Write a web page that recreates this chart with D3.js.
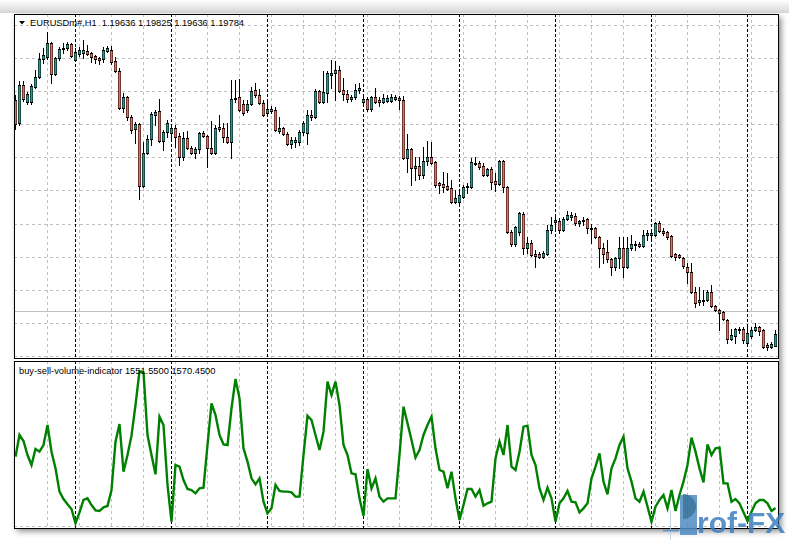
<!DOCTYPE html>
<html><head><meta charset="utf-8">
<script src="https://cdn.jsdelivr.net/npm/d3@7"></script>
<style>html,body{margin:0;padding:0;background:#fff;overflow:hidden}</style>
</head><body><svg id="c" width="789" height="540"></svg>
<script>
const symbol = "EURUSDm#,H1";
const headerValues = ["1.19636", "1.19825", "1.19636", "1.19784"];
const indicatorName = "buy-sell-volume-indicator";
const indicatorValues = ["1551.5500", "1570.4500"];

const openP = [1.22590,1.22314,1.22770,1.22566,1.22566,1.22746,1.22866,1.23082,1.23106,1.23274,1.22902,1.23094,1.23202,1.23214,1.23262,1.23070,1.23142,1.23154,1.23178,1.23154,1.23118,1.23094,1.23082,1.23178,1.23190,1.23058,1.22938,1.22494,1.22626,1.22386,1.22242,1.22302,1.21558,1.21954,1.22122,1.22410,1.22458,1.22098,1.22206,1.22194,1.22254,1.22158,1.21906,1.22134,1.22014,1.21954,1.22002,1.22194,1.22158,1.22014,1.21954,1.22266,1.22254,1.22146,1.22086,1.22602,1.22626,1.22542,1.22470,1.22542,1.22710,1.22650,1.22554,1.22434,1.22482,1.22470,1.22218,1.22254,1.22182,1.22062,1.22086,1.22086,1.22206,1.22194,1.22410,1.22386,1.22698,1.22566,1.22674,1.22890,1.22914,1.22950,1.22710,1.22662,1.22602,1.22626,1.22710,1.22566,1.22602,1.22482,1.22626,1.22590,1.22566,1.22578,1.22578,1.22602,1.22614,1.22590,1.21894,1.22002,1.21774,1.21798,1.21690,1.21858,1.21906,1.21846,1.21594,1.21582,1.21558,1.21534,1.21366,1.21366,1.21426,1.21546,1.21546,1.21834,1.21834,1.21798,1.21690,1.21762,1.21618,1.21582,1.21858,1.21546,1.21006,1.20862,1.21006,1.21222,1.20814,1.20874,1.20742,1.20742,1.20706,1.20742,1.21030,1.21126,1.21138,1.21030,1.21162,1.21186,1.21198,1.21114,1.21138,1.21162,1.21054,1.21054,1.20946,1.20814,1.20766,1.20682,1.20586,1.20694,1.20814,1.20586,1.20814,1.20850,1.20862,1.20838,1.20970,1.20970,1.20970,1.21114,1.21018,1.21006,1.20958,1.20742,1.20730,1.20694,1.20586,1.20526,1.20286,1.20166,1.20190,1.20190,1.20286,1.20118,1.20070,1.20046,1.19950,1.19722,1.19758,1.19842,1.19842,1.19674,1.19758,1.19830,1.19866,1.19830,1.19650,1.19626,1.19636];
const highP = [1.22650,1.22818,1.22818,1.22686,1.22782,1.22950,1.23154,1.23214,1.23406,1.23286,1.23106,1.23226,1.23274,1.23286,1.23274,1.23214,1.23226,1.23310,1.23250,1.23166,1.23130,1.23106,1.23226,1.23238,1.23238,1.23106,1.22974,1.22674,1.22638,1.22410,1.22326,1.22314,1.22086,1.22170,1.22446,1.22470,1.22602,1.22230,1.22350,1.22290,1.22290,1.22194,1.22206,1.22218,1.22038,1.22026,1.22206,1.22218,1.22170,1.22338,1.22290,1.22410,1.22314,1.22314,1.22830,1.22830,1.22842,1.22590,1.22590,1.22746,1.22794,1.22722,1.22590,1.22566,1.22518,1.22506,1.22386,1.22266,1.22206,1.22146,1.22146,1.22230,1.22338,1.22470,1.22470,1.22722,1.22710,1.22938,1.22938,1.23070,1.23058,1.22998,1.22854,1.22710,1.22650,1.22782,1.22794,1.22650,1.22626,1.22638,1.22734,1.22626,1.22662,1.22650,1.22662,1.22650,1.22638,1.22638,1.22182,1.22014,1.21906,1.21906,1.22026,1.22098,1.22086,1.21858,1.21606,1.21726,1.21714,1.21630,1.21510,1.21510,1.21570,1.21594,1.21894,1.21906,1.21858,1.21834,1.21774,1.21786,1.21714,1.21870,1.21870,1.21558,1.21030,1.21078,1.21246,1.21246,1.20946,1.20910,1.20790,1.20766,1.20778,1.21090,1.21186,1.21186,1.21174,1.21186,1.21258,1.21246,1.21234,1.21150,1.21186,1.21174,1.21102,1.21066,1.20958,1.20874,1.20910,1.20694,1.20706,1.20946,1.20946,1.20946,1.20970,1.20898,1.20886,1.21030,1.21030,1.21030,1.21126,1.21138,1.21054,1.21018,1.20970,1.20754,1.20742,1.20706,1.20634,1.20634,1.20346,1.20346,1.20310,1.20310,1.20370,1.20130,1.20082,1.20058,1.19962,1.19842,1.19854,1.19866,1.19866,1.19866,1.19866,1.19914,1.19878,1.19842,1.19674,1.19686,1.19825];
const lowP = [1.22242,1.22290,1.22578,1.22542,1.22542,1.22734,1.22854,1.23034,1.23082,1.22794,1.22890,1.23070,1.23154,1.23190,1.23106,1.23058,1.23118,1.23094,1.23130,1.23046,1.23034,1.23022,1.23046,1.23166,1.23022,1.22926,1.22482,1.22446,1.22350,1.22194,1.22074,1.21402,1.21546,1.21942,1.22050,1.22290,1.22086,1.21990,1.22146,1.22134,1.22026,1.21810,1.21870,1.22002,1.21942,1.21894,1.21954,1.22146,1.21786,1.21942,1.21942,1.22218,1.22086,1.22074,1.21894,1.22566,1.22458,1.22410,1.22446,1.22530,1.22626,1.22542,1.22398,1.22422,1.22434,1.22218,1.22194,1.22170,1.22050,1.22014,1.22026,1.22050,1.22170,1.22062,1.22350,1.22374,1.22554,1.22554,1.22566,1.22734,1.22590,1.22686,1.22590,1.22566,1.22578,1.22602,1.22674,1.22542,1.22458,1.22458,1.22554,1.22518,1.22554,1.22566,1.22566,1.22590,1.22482,1.21882,1.21726,1.21570,1.21630,1.21642,1.21654,1.21810,1.21822,1.21546,1.21474,1.21486,1.21510,1.21354,1.21354,1.21354,1.21414,1.21474,1.21534,1.21810,1.21762,1.21678,1.21678,1.21522,1.21498,1.21570,1.21486,1.20994,1.20838,1.20838,1.20970,1.20742,1.20754,1.20718,1.20586,1.20694,1.20694,1.20730,1.20994,1.21030,1.20994,1.21018,1.21150,1.21150,1.21090,1.21078,1.21090,1.20994,1.20874,1.20934,1.20586,1.20634,1.20646,1.20490,1.20550,1.20574,1.20466,1.20574,1.20790,1.20790,1.20826,1.20826,1.20910,1.20934,1.20958,1.21006,1.20970,1.20922,1.20706,1.20670,1.20694,1.20574,1.20394,1.20274,1.20106,1.20130,1.20130,1.20178,1.20106,1.20058,1.19830,1.19950,1.19674,1.19710,1.19674,1.19794,1.19674,1.19650,1.19734,1.19818,1.19770,1.19614,1.19590,1.19614,1.19636];
const closeP = [1.22302,1.22770,1.22602,1.22662,1.22758,1.22866,1.23082,1.23130,1.23274,1.22902,1.23094,1.23202,1.23214,1.23262,1.23118,1.23166,1.23190,1.23190,1.23142,1.23106,1.23082,1.23070,1.23190,1.23214,1.23046,1.22938,1.22494,1.22626,1.22386,1.22230,1.22302,1.21558,1.21954,1.22122,1.22422,1.22446,1.22098,1.22206,1.22314,1.22254,1.22146,1.21906,1.22134,1.22014,1.21954,1.22002,1.22194,1.22158,1.22014,1.21954,1.22254,1.22242,1.22146,1.22086,1.22602,1.22614,1.22470,1.22434,1.22542,1.22698,1.22650,1.22554,1.22410,1.22482,1.22458,1.22230,1.22254,1.22182,1.22062,1.22110,1.22110,1.22206,1.22314,1.22410,1.22386,1.22698,1.22566,1.22686,1.22914,1.22914,1.22950,1.22698,1.22662,1.22602,1.22626,1.22710,1.22734,1.22602,1.22482,1.22626,1.22566,1.22566,1.22614,1.22614,1.22626,1.22626,1.22590,1.21894,1.22002,1.21774,1.21798,1.21690,1.21858,1.21906,1.21834,1.21570,1.21570,1.21546,1.21522,1.21366,1.21414,1.21450,1.21546,1.21558,1.21846,1.21822,1.21786,1.21690,1.21762,1.21606,1.21582,1.21858,1.21546,1.21006,1.20862,1.21066,1.21234,1.20814,1.20874,1.20730,1.20718,1.20706,1.20754,1.21030,1.21090,1.21150,1.21030,1.21162,1.21210,1.21210,1.21114,1.21138,1.21150,1.21054,1.21042,1.20946,1.20814,1.20742,1.20682,1.20586,1.20694,1.20814,1.20586,1.20814,1.20862,1.20862,1.20838,1.20970,1.20994,1.20994,1.21114,1.21018,1.20994,1.20946,1.20718,1.20706,1.20706,1.20598,1.20526,1.20286,1.20154,1.20190,1.20178,1.20286,1.20118,1.20070,1.20034,1.19962,1.19722,1.19770,1.19842,1.19830,1.19710,1.19794,1.19830,1.19866,1.19818,1.19626,1.19626,1.19662,1.19784];

const volumeLine = [3110,3760,3580,3160,2860,3340,3260,3460,4060,3260,2760,2060,1840,1680,1540,1110,1440,1810,1860,1660,1500,1480,1590,1630,2110,3560,4090,2660,3160,3740,4660,5680,5640,3760,3160,2580,4310,4060,2260,1160,2860,2810,2410,2140,2110,2010,2160,2180,3460,4710,4360,3760,3480,3460,4560,5440,4860,3360,2960,2460,2280,2460,1760,1410,1560,2260,2080,2060,2060,2040,1910,1910,3160,4340,4210,3760,3310,3860,5360,4960,5360,4660,3460,3160,2610,2580,1860,1340,2740,2160,2460,1910,1760,1860,1860,1860,3160,4610,4110,3610,3080,3310,3760,4060,4310,3360,2710,2660,2160,2660,1860,1210,1660,2140,2140,1910,2110,1640,1710,1760,3060,3560,3160,4060,2810,2710,3260,4010,4040,3160,2860,2160,1810,2180,1860,1160,1710,1860,2080,1760,1740,1440,1560,1710,2460,2810,3210,2360,1980,2760,3060,3460,3710,2760,2360,1860,1760,2060,1610,1160,1610,1810,1960,1560,2110,1480,1960,2360,2860,3680,3260,2760,2340,3480,3160,3360,3380,2310,2310,1760,1840,1710,1440,1180,1460,1710,1810,1810,1710,1480,1570.45];

const priceGrid = [1.19510,1.19908,1.20306,1.20704,1.21102,1.21500,1.21898,1.22296,1.22694,1.23092,1.23490];
const horizontalLinePrice = 1.2005;
const daySeparatorBars = [15,39,63,87,111,135,159,183];
const gridBars = d3.range(8, 191, 8);

const svg = d3.select('#c');
const W = 789, H = 540;
const L = 14, R = 778, T = 14, MB = 358, IT = 361, IB = 528;

const defs = svg.append('defs');
const flt = defs.append('filter').attr('id','sh').attr('x','-10%').attr('y','-10%').attr('width','120%').attr('height','120%');
flt.append('feGaussianBlur').attr('stdDeviation', 3);
const tg = defs.append('linearGradient').attr('id','tg').attr('x1',0).attr('y1',0).attr('x2',0).attr('y2',1);
tg.append('stop').attr('offset','0%').attr('stop-color','#ffffff');
tg.append('stop').attr('offset','100%').attr('stop-color','#d6d6d6');
defs.append('clipPath').attr('id','cm').append('rect').attr('x',L+1).attr('y',T+1).attr('width',R-L-1).attr('height',MB-T-1);
defs.append('clipPath').attr('id','ci').append('rect').attr('x',L+1).attr('y',IT+1).attr('width',R-L-1).attr('height',IB-IT-1);

svg.append('rect').attr('width',W).attr('height',H).attr('fill','#fff');
svg.append('rect').attr('x',0).attr('y',0).attr('width',W).attr('height',13).attr('fill','url(#tg)');
svg.append('rect').attr('x',L+3).attr('y',T+3).attr('width',R-L).attr('height',IB-T).attr('fill','#555').attr('opacity',0.75).attr('filter','url(#sh)');

svg.append('rect').attr('x',L).attr('y',T).attr('width',R-L+1).attr('height',IB-T+1).attr('fill','#fff');

const x = d3.scaleLinear().domain([0, 190]).range([15.5, 775.5]);
const y = d3.scaleLinear().domain([1.1951, 1.2349]).range([356.667, 25]);
const yi = d3.scaleLinear().domain([1000, 5590]).range([527, 374]);

const crisp = v => Math.floor(v) + 0.5;

// main grid
const gm = svg.append('g').attr('clip-path','url(#cm)');
gm.selectAll('.hg').data(priceGrid).enter().append('line')
  .attr('x1',L).attr('x2',R).attr('y1',d=>crisp(y(d))).attr('y2',d=>crisp(y(d)))
  .attr('stroke','#c0c0c0').attr('stroke-dasharray','3,3');
gm.selectAll('.vg').data(gridBars).enter().append('line')
  .attr('x1',d=>x(d)).attr('x2',d=>x(d)).attr('y1',T).attr('y2',MB)
  .attr('stroke','#c0c0c0').attr('stroke-dasharray','3,3');
gm.append('line').attr('x1',L).attr('x2',R)
  .attr('y1',crisp(y(horizontalLinePrice))).attr('y2',crisp(y(horizontalLinePrice)))
  .attr('stroke','#c0c0c0');
gm.selectAll('.sep').data(daySeparatorBars).enter().append('line')
  .attr('x1',d=>x(d)).attr('x2',d=>x(d)).attr('y1',T).attr('y2',MB)
  .attr('stroke','#000').attr('stroke-dasharray','3,2');

// candles
const bars = d3.range(openP.length).map(i => ({i, o:openP[i], h:highP[i], l:lowP[i], c:closeP[i]}));
const bTop = d => Math.round(y(Math.max(d.o,d.c)));
const bBot = d => Math.round(y(Math.min(d.o,d.c)));
const gc = gm.append('g');
gc.selectAll('.wick').data(bars).enter().append('line')
  .attr('x1',d=>x(d.i)).attr('x2',d=>x(d.i))
  .attr('y1',d=>Math.round(y(d.h))).attr('y2',d=>Math.round(y(d.l))+1)
  .attr('stroke','#000').attr('stroke-width',1);
gc.selectAll('.bodyo').data(bars).enter().append('rect')
  .attr('x',d=>x(d.i)-1.5).attr('width',3)
  .attr('y',bTop)
  .attr('height',d=>Math.max(1, bBot(d) - bTop(d) + 1))
  .attr('fill','#000');
gc.selectAll('.bodyi').data(bars.filter(d => bBot(d) - bTop(d) >= 2)).enter().append('rect')
  .attr('x',d=>x(d.i)-1).attr('width',2)
  .attr('y',d=>bTop(d)+1)
  .attr('height',d=>bBot(d) - bTop(d) - 1)
  .attr('fill',d=>d.c>=d.o ? '#2c958b' : '#ea6a5e');

// indicator grid
const gi = svg.append('g').attr('clip-path','url(#ci)');
gi.append('line').attr('x1',L).attr('x2',R).attr('y1',526.5).attr('y2',526.5)
  .attr('stroke','#c0c0c0').attr('stroke-dasharray','3,3');
gi.selectAll('.vg').data(gridBars).enter().append('line')
  .attr('x1',d=>x(d)).attr('x2',d=>x(d)).attr('y1',IT).attr('y2',IB)
  .attr('stroke','#c0c0c0').attr('stroke-dasharray','3,3');
gi.selectAll('.sep').data(daySeparatorBars).enter().append('line')
  .attr('x1',d=>x(d)).attr('x2',d=>x(d)).attr('y1',IT).attr('y2',IB)
  .attr('stroke','#000').attr('stroke-dasharray','3,2');
const line = d3.line().x((d,i)=>x(i)).y(d=>yi(d)).curve(d3.curveLinear);
gi.append('path').datum(volumeLine).attr('d',line).attr('fill','none')
  .attr('stroke','#008000').attr('stroke-width',2.4).attr('stroke-linejoin','miter');

// frames
svg.append('rect').attr('x',L+0.5).attr('y',T+0.5).attr('width',R-L).attr('height',MB-T)
  .attr('fill','none').attr('stroke','#000');
svg.append('rect').attr('x',L+0.5).attr('y',IT+0.5).attr('width',R-L).attr('height',IB-IT)
  .attr('fill','none').attr('stroke','#000');

// texts
svg.append('path').attr('d','M19,21 L25,21 L22,24.5 Z').attr('fill','#000');
svg.append('text').attr('x',30).attr('y',26).attr('font-family','Liberation Sans, Arial, sans-serif')
  .attr('font-size','9.3px').attr('fill','#000').attr('xml:space','preserve')
  .text(symbol + '  ' + headerValues.join(' '));
svg.append('text').attr('x',19).attr('y',374).attr('font-family','Liberation Sans, Arial, sans-serif')
  .attr('font-size','9.3px').attr('fill','#000')
  .text(indicatorName + ' ' + indicatorValues.join(' '));

// logo
const lg = svg.append('g').attr('opacity',0.85);
lg.append('line').attr('x1',670.5).attr('x2',670.5).attr('y1',510).attr('y2',540).attr('stroke','#b8cde0');
lg.append('line').attr('x1',663).attr('x2',679).attr('y1',530.5).attr('y2',530.5).attr('stroke','#5d8fbf').attr('stroke-width',2);
lg.append('rect').attr('x',680).attr('y',495).attr('width',17).attr('height',40).attr('fill','#4f8cc4');
lg.append('path').attr('d','M683,494 A13,12.5 0 1 1 683,519 Z').attr('fill','#1f5f8f').attr('opacity',0.9);
lg.append('text').attr('x',697).attr('y',533).attr('font-family','Liberation Sans, Arial, sans-serif')
  .attr('font-weight','bold').attr('font-size','30px').attr('fill','#3f7fbf').text('rof-FX');
</script></body></html>
